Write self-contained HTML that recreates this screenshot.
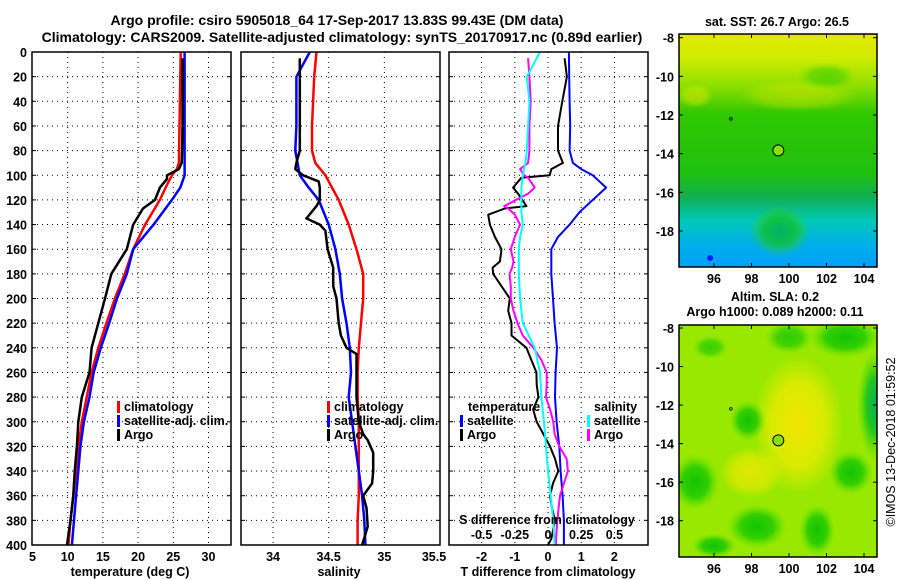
<!DOCTYPE html>
<html><head><meta charset="utf-8"><style>
html,body{margin:0;padding:0;background:#fff;}
svg{display:block;font-family:"Liberation Sans",Arial,sans-serif;font-weight:bold;}
</style></head><body>
<svg id="c" width="900" height="580" viewBox="0 0 900 580" xmlns="http://www.w3.org/2000/svg">
<defs>
<linearGradient id="sstg" x1="0" y1="0" x2="0" y2="1">
<stop offset="0" stop-color="#e4e800"/><stop offset="0.1" stop-color="#d0ec00"/><stop offset="0.22" stop-color="#90e000"/>
<stop offset="0.34" stop-color="#30c800"/><stop offset="0.6" stop-color="#20c010"/><stop offset="0.7" stop-color="#10b050"/>
<stop offset="0.8" stop-color="#00c8b8"/><stop offset="0.9" stop-color="#00b0e8"/><stop offset="1" stop-color="#00a0f8"/>
</linearGradient>
<radialGradient id="yel"><stop offset="0" stop-color="#f4e400"/><stop offset="0.6" stop-color="#e8ec00" stop-opacity="0.8"/><stop offset="1" stop-color="#e8ec00" stop-opacity="0"/></radialGradient>
<radialGradient id="grn"><stop offset="0" stop-color="#10c400"/><stop offset="0.55" stop-color="#28cc00" stop-opacity="0.9"/><stop offset="1" stop-color="#60e000" stop-opacity="0"/></radialGradient>
<radialGradient id="teal"><stop offset="0" stop-color="#00b060"/><stop offset="0.5" stop-color="#10c020" stop-opacity="0.85"/><stop offset="1" stop-color="#40d800" stop-opacity="0"/></radialGradient>
<clipPath id="clipTop"><rect x="679" y="34" width="198" height="233"/></clipPath>
<clipPath id="clipBot"><rect x="679" y="325" width="198" height="232"/></clipPath>
</defs>
<g id="layer"></g>
</svg>
<script>
// ---------- data ----------
const depthT = [0,90,95,100,110,120,140,160,180,200,220,240,260,280,300,320,340,360,380,400];
const tempClim = [26.05,25.8,25.5,24.8,23.9,23.1,21.0,19.3,18.1,16.7,15.5,14.35,13.4,12.7,12.0,11.5,11.2,10.8,10.4,10.1];
const tempSat  = [26.6,26.6,26.6,26.6,26.0,24.8,22.2,19.3,18.4,17.0,15.9,14.7,13.7,13.1,12.3,11.8,11.5,11.2,10.9,10.6];
const depthTA = [5,20,40,60,80,90,95,100,103,110,120,127,140,160,180,200,220,240,260,280,300,320,340,360,380,400];
const tempArgo = [26.3,26.3,26.3,26.3,26.25,26.2,25.8,24.1,24.1,23.1,22.4,20.7,19.3,18.4,16.2,15.3,14.35,13.4,13.1,12.0,11.5,11.3,11.0,10.8,10.4,9.9];

const depthS = [0,20,40,60,80,90,100,110,120,140,160,180,200,220,240,260,280,300,320,340,360,380,400];
const salClim = [34.39,34.37,34.36,34.35,34.35,34.38,34.47,34.53,34.59,34.68,34.75,34.81,34.81,34.79,34.77,34.76,34.76,34.77,34.77,34.77,34.77,34.76,34.76];
const salSat  = [34.33,34.21,34.21,34.21,34.2,34.22,34.24,34.32,34.41,34.5,34.56,34.6,34.62,34.66,34.69,34.7,34.68,34.71,34.74,34.77,34.8,34.82,34.83];
const depthSA = [5,20,40,60,80,90,95,100,105,110,120,125,135,140,145,160,175,190,200,220,230,240,245,260,280,300,310,315,325,340,350,360,370,385,400];
const salArgo = [34.24,34.24,34.24,34.24,34.24,34.21,34.2,34.27,34.41,34.42,34.42,34.39,34.3,34.42,34.47,34.49,34.54,34.54,34.57,34.59,34.61,34.66,34.75,34.75,34.75,34.77,34.81,34.85,34.9,34.9,34.89,34.81,34.84,34.85,34.8];

const depthD = [0,20,40,60,80,90,95,100,110,120,130,140,150,160,170,180,200,220,240,260,280,300,320,340,360,380,400];
const dTsat = [0.63,0.64,0.65,0.67,0.65,0.75,1.0,1.35,1.75,1.35,0.95,0.65,0.3,0.1,0.1,0.1,0.15,0.2,0.27,0.23,0.21,0.26,0.34,0.38,0.44,0.48,0.48];
const dSsat = [-0.06,-0.16,-0.14,-0.15,-0.16,-0.17,-0.18,-0.19,-0.2,-0.2,-0.2,-0.19,-0.21,-0.22,-0.22,-0.22,-0.21,-0.19,-0.1,-0.06,-0.05,-0.03,-0.015,0.0,0.02,0.04,0.05];
const depthDA = [5,20,40,60,80,90,95,100,102,110,115,125,127,132,140,150,160,170,175,180,190,200,210,220,230,240,250,260,270,280,290,300,310,320,330,340,350,360,370,380,395,400];
const dTargo = [0.5,0.57,0.43,0.3,0.3,0.45,0.1,0.05,-0.8,-1.05,-0.9,-0.65,-1.3,-1.8,-1.75,-1.6,-1.4,-1.45,-1.67,-1.65,-1.4,-1.15,-1.2,-1.1,-1.1,-0.65,-0.5,-0.35,-0.34,-0.29,-0.45,-0.34,-0.14,0.06,0.21,0.31,0.15,0.06,0.12,0.21,0.1,0.0];
const dSargo = [-0.15,-0.14,-0.13,-0.14,-0.14,-0.15,-0.21,-0.18,-0.15,-0.1,-0.15,-0.33,-0.3,-0.25,-0.21,-0.25,-0.28,-0.26,-0.27,-0.29,-0.28,-0.28,-0.26,-0.23,-0.19,-0.11,-0.05,-0.01,-0.01,-0.015,0.015,0.04,0.05,0.085,0.14,0.15,0.12,0.09,0.08,0.07,0.06,0.06];

const depthTicks = [0,20,40,60,80,100,120,140,160,180,200,220,240,260,280,300,320,340,360,380,400];
const tTicks = [5,10,15,20,25,30];
const sTicks = [34,34.5,35,35.5];
const dTTicks = [-2,-1,0,1,2];
const dSTickLabels = ["-0.5","-0.25","0","0.25","0.5"];
const dSTickVals = [-0.5,-0.25,0,0.25,0.5];
const latTicks = [-8,-10,-12,-14,-16,-18];
const lonTicks = [96,98,100,102,104];

// ---------- helpers ----------
const NS = "http://www.w3.org/2000/svg";
const root = document.getElementById('layer');
function mk(tag, attrs, parent) {
  const e = document.createElementNS(NS, tag);
  for (const k in attrs) e.setAttribute(k, attrs[k]);
  (parent || root).appendChild(e);
  return e;
}
function txt(s, x, y, size, anchor, parent) {
  const t = mk('text', {x: x, y: y, 'font-size': size, 'text-anchor': anchor || 'middle', fill: '#000'}, parent);
  t.textContent = s;
  return t;
}
const Y0 = 52, Y1 = 545;
const yD = d => Y0 + (Y1 - Y0) * d / 400;
const xT = v => 32.5 + (v - 5) * 7.04;
const xS = v => 440 - (35.5 - v) * 111.3;
const xDT = v => 548 + v * 33.2;
const xDS = v => 548 + v * 132.8;

function frame(x0, x1, name) {
  const r = mk('rect', {x: x0, y: Y0, width: x1 - x0, height: Y1 - Y0, fill: 'none', stroke: '#000', 'stroke-width': 1.5});
  
  
}
function hgrid(x0, x1) {
  depthTicks.forEach(d => {
    if (d === 0 || d === 400) return;
    mk('line', {x1: x0, x2: x1, y1: yD(d), y2: yD(d), stroke: '#000', 'stroke-width': 1, 'stroke-dasharray': '1,4'});
    mk('line', {x1: x0, x2: x0 + 4, y1: yD(d), y2: yD(d), stroke: '#000'});
    mk('line', {x1: x1 - 4, x2: x1, y1: yD(d), y2: yD(d), stroke: '#000'});
  });
}
function vgrid(xs) {
  xs.forEach(x => mk('line', {x1: x, x2: x, y1: Y0, y2: Y1, stroke: '#000', 'stroke-width': 1, 'stroke-dasharray': '1,4'}));
}
function line(depths, vals, fx, color, w, name) {
  const pts = depths.map((d, i) => fx(vals[i]).toFixed(1) + ',' + yD(d).toFixed(1)).join(' ');
  const p = mk('polyline', {points: pts, fill: 'none', stroke: color, 'stroke-width': w, 'stroke-linejoin': 'round'});
  
  
}
function legend(x, y, color, label, name) {
  const g = mk('g', {});
  
  
  mk('rect', {x: x, y: y - 10, width: 3, height: 12, fill: color}, g);
  txt(label, x + 7, y, 12.5, 'start', g);
}

// ---------- titles ----------
let t1 = txt('Argo profile: csiro 5905018_64 17-Sep-2017 13.83S 99.43E (DM data)', 337, 25, 14);


let t2 = txt('Climatology: CARS2009. Satellite-adjusted climatology: synTS_20170917.nc (0.89d earlier)', 342, 42, 14);



depthTicks.forEach(d => {
  const l = txt(String(d), 27, yD(d) + 5, 12.5, 'end');
  
  
});

// ---------- panel 1: temperature ----------
vgrid(tTicks.slice(1).map(xT));
hgrid(32, 231);
line(depthT, tempClim, xT, '#ff0000', 2.5, 'temp-climatology-line');
line(depthT, tempSat, xT, '#0000ff', 2.5, 'temp-satellite-line');
line(depthTA, tempArgo, xT, '#000000', 2.5, 'temp-argo-line');
frame(32, 231, 'temperature-panel');
tTicks.forEach(v => { const l = txt(String(v), xT(v), 561, 12.5);   });
let xl1 = txt('temperature (deg C)', 130, 576, 12.5);  
legend(117, 411, '#ff0000', 'climatology', 'legend-climatology');
legend(117, 425, '#0000ff', 'satellite-adj. clim.', 'legend-satellite-adj');
legend(117, 439, '#000000', 'Argo', 'legend-argo');

// ---------- panel 2: salinity ----------
vgrid(sTicks.slice(0, 3).map(xS));
hgrid(241, 440);
line(depthS, salClim, xS, '#ff0000', 2.5, 'sal-climatology-line');
line(depthS, salSat, xS, '#0000ff', 2.5, 'sal-satellite-line');
line(depthSA, salArgo, xS, '#000000', 2.5, 'sal-argo-line');
frame(241, 440, 'salinity-panel');
sTicks.forEach(v => { const x = v === 35.5 ? 434 : xS(v); const l = txt(String(v), x, 561, 12.5);   });
let xl2 = txt('salinity', 339, 576, 12.5);  
legend(327, 411, '#ff0000', 'climatology', 'legend-climatology-2');
legend(327, 425, '#0000ff', 'satellite-adj. clim.', 'legend-satellite-adj-2');
legend(327, 439, '#000000', 'Argo', 'legend-argo-2');

// ---------- panel 3: differences ----------
vgrid(dTTicks.map(xDT));
hgrid(449, 648);
line(depthD, dTsat, xDT, '#0000ff', 2, 'tdiff-satellite-line');
line(depthDA, dTargo, xDT, '#000000', 2, 'tdiff-argo-line');
line(depthDA, dSargo, xDS, '#ff00ff', 2, 'sdiff-argo-line');
line(depthD, dSsat, xDS, '#00ffff', 2, 'sdiff-satellite-line');
frame(449, 648, 'difference-panel');
dTTicks.forEach(v => { const l = txt(String(v), xDT(v), 561, 12.5);   });
let xl3 = txt('T difference from climatology', 548, 576, 12.5);  
let sdt = txt('S difference from climatology', 547, 524, 12.5);  
dSTickVals.forEach((v, i) => { const l = txt(dSTickLabels[i], xDS(v), 539, 12.5);   });
let lt = txt('temperature', 468, 411, 12.5, 'start');  
legend(460, 425, '#0000ff', 'satellite', 'legend-t-satellite');
legend(460, 439, '#000000', 'Argo', 'legend-t-argo');
let ls = txt('salinity', 594, 411, 12.5, 'start');  
legend(587, 425, '#00ffff', 'satellite', 'legend-s-satellite');
legend(587, 439, '#ff00ff', 'Argo', 'legend-s-argo');

// ---------- maps ----------
const lonX = lon => 714 + (lon - 96) * 18.75;
function mapPanel(top, bottom, latY, name, clip, fillFn) {
  const g = mk('g', {'clip-path': 'url(#' + clip + ')'});
  
  
  fillFn(g);
  mk('circle', {cx: lonX(96.9), cy: latY(-12.2), r: 1.3, fill: 'none', stroke: '#000', 'stroke-width': 0.8}, g);
  mk('circle', {cx: lonX(99.43), cy: latY(-13.83), r: 5.5, fill: '#88e000', stroke: '#000', 'stroke-width': 1}, g);
  mk('rect', {x: 679, y: top, width: 198, height: bottom - top, fill: 'none', stroke: '#000', 'stroke-width': 1.5});
  latTicks.forEach(l => {
    mk('line', {x1: 679, x2: 683, y1: latY(l), y2: latY(l), stroke: '#000'});
    mk('line', {x1: 873, x2: 877, y1: latY(l), y2: latY(l), stroke: '#000'});
    const tl = txt(String(l), 674, latY(l) + 5, 12.5, 'end');
    
    
  });
  lonTicks.forEach(l => {
    mk('line', {x1: lonX(l), x2: lonX(l), y1: top, y2: top + 4, stroke: '#000'});
    mk('line', {x1: lonX(l), x2: lonX(l), y1: bottom - 4, y2: bottom, stroke: '#000'});
    const tl = txt(String(l), lonX(l), bottom + 16, 12.5);
    
    
  });
}
const latTop = lat => 37.7 + (-8 - lat) * 19.33;
mapPanel(34, 267, latTop, 'sst-map', 'clipTop', g => {
  mk('rect', {x: 679, y: 34, width: 198, height: 233, fill: 'url(#sstg)'}, g);
  mk('ellipse', {cx: lonX(100.5), cy: latTop(-11), rx: 60, ry: 16, fill: 'url(#yel)', opacity: 0.4}, g);
  mk('ellipse', {cx: lonX(95), cy: latTop(-11), rx: 18, ry: 12, fill: 'url(#yel)', opacity: 0.5}, g);
  mk('ellipse', {cx: lonX(102), cy: latTop(-10), rx: 30, ry: 14, fill: 'url(#grn)', opacity: 0.5}, g);
  mk('ellipse', {cx: lonX(99.5), cy: latTop(-18), rx: 30, ry: 25, fill: 'url(#teal)', opacity: 0.9}, g);
  mk('ellipse', {cx: lonX(95.8), cy: latTop(-19.4), rx: 3, ry: 3, fill: '#0020ff'}, g);
});
const latBot = lat => 328 + (-8 - lat) * 19.27;
mapPanel(325, 557, latBot, 'sla-map', 'clipBot', g => {
  mk('rect', {x: 679, y: 325, width: 198, height: 232, fill: '#98e800'}, g);
  mk('ellipse', {cx: lonX(100.5), cy: latBot(-13), rx: 45, ry: 70, fill: 'url(#yel)'}, g);
  mk('ellipse', {cx: lonX(98), cy: latBot(-15.5), rx: 32, ry: 26, fill: 'url(#yel)', opacity: 0.8}, g);
  mk('ellipse', {cx: lonX(95), cy: latBot(-16), rx: 24, ry: 28, fill: 'url(#grn)'}, g);
  mk('ellipse', {cx: lonX(97.8), cy: latBot(-12.8), rx: 18, ry: 20, fill: 'url(#grn)'}, g);
  mk('ellipse', {cx: lonX(101.5), cy: latBot(-18.5), rx: 18, ry: 26, fill: 'url(#grn)'}, g);
  mk('ellipse', {cx: lonX(98.3), cy: latBot(-18.3), rx: 30, ry: 22, fill: 'url(#grn)'}, g);
  mk('ellipse', {cx: lonX(103.3), cy: latBot(-15.5), rx: 22, ry: 22, fill: 'url(#grn)'}, g);
  mk('ellipse', {cx: lonX(104.6), cy: latBot(-12), rx: 18, ry: 55, fill: 'url(#teal)'}, g);
  mk('ellipse', {cx: lonX(100), cy: latBot(-8.5), rx: 24, ry: 16, fill: 'url(#grn)', opacity: 0.8}, g);
  mk('ellipse', {cx: lonX(103), cy: latBot(-8.5), rx: 36, ry: 20, fill: 'url(#grn)'}, g);
  mk('ellipse', {cx: lonX(95.8), cy: latBot(-9), rx: 18, ry: 12, fill: 'url(#grn)', opacity: 0.7}, g);
  mk('ellipse', {cx: lonX(96), cy: latBot(-19.3), rx: 22, ry: 12, fill: 'url(#grn)'}, g);
});
let m1 = txt('sat. SST: 26.7 Argo: 26.5', 777, 26, 12.5);  
let m2 = txt('Altim. SLA: 0.2', 775, 301, 12.5);  
let m3 = txt('Argo h1000: 0.089 h2000: 0.11', 775, 316, 12.5);  
let cr = txt('©IMOS 13-Dec-2018 01:59:52', 0, 0, 12.5);
cr.setAttribute('font-weight', 'normal');
cr.setAttribute('transform', 'translate(895,442) rotate(-90)');


</script>
</body></html>
